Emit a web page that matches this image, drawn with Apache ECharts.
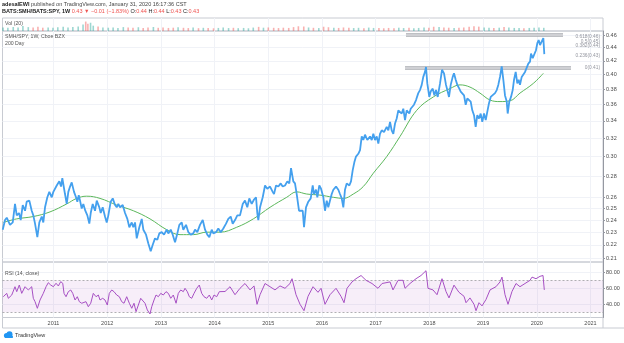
<!DOCTYPE html>
<html>
<head>
<meta charset="utf-8">
<script src="https://cdn.jsdelivr.net/npm/echarts@6/dist/echarts.min.js"></script>
<style>
  html, body { margin: 0; padding: 0; background: #ffffff; }
  #chart { width: 624px; height: 343px; }
</style>
</head>
<body>
<div id="chart"></div>
<script>
// SMH/SPY weekly ratio: [decimal year, close]
const ratio = [
  [2010.054,0.232],[2010.097,0.240],[2010.129,0.242],[2010.190,0.236],[2010.241,0.238],[2010.283,0.254],[2010.315,0.244],[2010.358,0.246],[2010.389,0.240],[2010.427,0.253],
  [2010.470,0.248],[2010.501,0.256],[2010.550,0.257],[2010.581,0.256],[2010.594,0.248],[2010.624,0.244],[2010.656,0.237],[2010.699,0.226],[2010.736,0.238],[2010.781,0.243],
  [2010.810,0.238],[2010.842,0.251],[2010.885,0.260],[2010.922,0.265],[2010.967,0.260],[2010.997,0.265],[2011.060,0.271],[2011.108,0.275],[2011.140,0.270],[2011.164,0.278],
  [2011.214,0.263],[2011.246,0.254],[2011.276,0.265],[2011.308,0.270],[2011.339,0.274],[2011.382,0.265],[2011.419,0.260],[2011.444,0.256],[2011.470,0.262],[2011.494,0.257],
  [2011.525,0.250],[2011.555,0.254],[2011.592,0.248],[2011.630,0.244],[2011.667,0.237],[2011.693,0.246],[2011.730,0.254],[2011.773,0.248],[2011.805,0.257],[2011.853,0.251],
  [2011.879,0.246],[2011.916,0.251],[2011.959,0.243],[2011.991,0.238],[2012.021,0.244],[2012.065,0.256],[2012.103,0.259],[2012.146,0.253],[2012.177,0.251],[2012.207,0.254],
  [2012.239,0.251],[2012.289,0.253],[2012.332,0.246],[2012.375,0.241],[2012.412,0.234],[2012.457,0.238],[2012.486,0.234],[2012.518,0.238],[2012.550,0.225],[2012.598,0.234],
  [2012.643,0.241],[2012.673,0.232],[2012.723,0.228],[2012.766,0.221],[2012.810,0.215],[2012.848,0.220],[2012.890,0.225],[2012.933,0.224],[2012.970,0.229],[2013.015,0.230],
  [2013.058,0.228],[2013.108,0.232],[2013.138,0.229],[2013.183,0.232],[2013.220,0.228],[2013.263,0.222],[2013.306,0.229],[2013.343,0.236],[2013.388,0.238],[2013.417,0.232],
  [2013.468,0.236],[2013.511,0.230],[2013.555,0.228],[2013.604,0.229],[2013.635,0.232],[2013.678,0.230],[2013.728,0.236],[2013.779,0.240],[2013.822,0.232],[2013.864,0.228],
  [2013.902,0.226],[2013.946,0.232],[2013.976,0.229],[2014.026,0.230],[2014.069,0.233],[2014.114,0.230],[2014.162,0.233],[2014.213,0.237],[2014.255,0.241],[2014.300,0.243],
  [2014.337,0.237],[2014.380,0.240],[2014.423,0.244],[2014.473,0.244],[2014.524,0.254],[2014.566,0.257],[2014.609,0.251],[2014.646,0.259],[2014.691,0.254],[2014.734,0.258],
  [2014.771,0.260],[2014.795,0.246],[2014.814,0.240],[2014.846,0.251],[2014.896,0.260],[2014.939,0.271],[2014.981,0.268],[2015.032,0.270],[2015.082,0.265],[2015.106,0.263],
  [2015.144,0.271],[2015.187,0.270],[2015.231,0.273],[2015.268,0.270],[2015.311,0.271],[2015.354,0.275],[2015.391,0.273],[2015.423,0.288],[2015.466,0.275],[2015.497,0.273],
  [2015.529,0.263],[2015.572,0.248],[2015.604,0.247],[2015.641,0.248],[2015.665,0.234],[2015.702,0.251],[2015.745,0.256],[2015.790,0.259],[2015.827,0.271],[2015.851,0.263],
  [2015.889,0.267],[2015.913,0.260],[2015.950,0.271],[2015.982,0.268],[2016.025,0.260],[2016.056,0.248],[2016.088,0.257],[2016.117,0.251],[2016.149,0.257],[2016.181,0.263],
  [2016.211,0.267],[2016.261,0.270],[2016.304,0.267],[2016.335,0.263],[2016.367,0.259],[2016.397,0.251],[2016.428,0.267],[2016.460,0.273],[2016.509,0.271],[2016.540,0.275],
  [2016.572,0.286],[2016.602,0.294],[2016.633,0.300],[2016.676,0.303],[2016.708,0.307],[2016.740,0.322],[2016.769,0.318],[2016.801,0.324],[2016.844,0.318],[2016.894,0.322],
  [2016.926,0.318],[2016.956,0.325],[2016.987,0.318],[2017.019,0.322],[2017.049,0.314],[2017.080,0.325],[2017.112,0.329],[2017.155,0.327],[2017.205,0.333],[2017.235,0.329],
  [2017.267,0.339],[2017.298,0.329],[2017.328,0.325],[2017.360,0.337],[2017.391,0.343],[2017.421,0.353],[2017.453,0.355],[2017.484,0.349],[2017.514,0.355],[2017.546,0.341],
  [2017.577,0.353],[2017.626,0.349],[2017.652,0.355],[2017.689,0.353],[2017.713,0.360],[2017.751,0.366],[2017.793,0.375],[2017.825,0.379],[2017.857,0.386],[2017.886,0.397],
  [2017.918,0.404],[2017.937,0.411],[2017.961,0.388],[2017.998,0.370],[2018.024,0.377],[2018.062,0.381],[2018.092,0.372],[2018.123,0.379],[2018.155,0.370],[2018.198,0.388],
  [2018.235,0.407],[2018.272,0.402],[2018.309,0.386],[2018.334,0.379],[2018.365,0.370],[2018.397,0.386],[2018.434,0.397],[2018.458,0.402],[2018.490,0.393],[2018.520,0.386],
  [2018.557,0.381],[2018.583,0.377],[2018.620,0.379],[2018.645,0.372],[2018.676,0.360],[2018.706,0.368],[2018.738,0.366],[2018.769,0.364],[2018.799,0.353],[2018.831,0.347],
  [2018.862,0.333],[2018.892,0.347],[2018.924,0.343],[2018.955,0.349],[2018.985,0.339],[2019.017,0.349],[2019.049,0.341],[2019.078,0.351],[2019.110,0.362],[2019.142,0.370],
  [2019.179,0.368],[2019.222,0.375],[2019.254,0.379],[2019.283,0.386],[2019.315,0.397],[2019.347,0.412],[2019.377,0.393],[2019.408,0.372],[2019.440,0.364],[2019.458,0.349],
  [2019.488,0.364],[2019.520,0.370],[2019.551,0.379],[2019.576,0.393],[2019.607,0.404],[2019.637,0.388],[2019.663,0.393],[2019.687,0.386],[2019.719,0.397],[2019.749,0.395],
  [2019.781,0.404],[2019.812,0.402],[2019.842,0.416],[2019.874,0.419],[2019.892,0.431],[2019.924,0.424],[2019.954,0.426],[2019.985,0.436],[2020.010,0.447],[2020.035,0.452],
  [2020.060,0.444],[2020.092,0.444],[2020.122,0.455],[2020.140,0.430]
];

// 200 day moving average of the ratio
const ma200 = [
  [2010.065,0.238],[2010.315,0.241],[2010.624,0.243],[2010.935,0.247],[2011.246,0.254],[2011.432,0.259],[2011.618,0.261],[2011.866,0.259],
  [2012.177,0.253],[2012.486,0.248],[2012.797,0.241],[2013.108,0.232],[2013.356,0.228],[2013.604,0.228],[2013.853,0.230],[2014.101,0.230],
  [2014.412,0.234],[2014.721,0.241],[2015.032,0.251],[2015.343,0.260],[2015.529,0.265],[2015.715,0.263],[2015.963,0.262],[2016.211,0.260],
  [2016.397,0.259],[2016.583,0.263],[2016.769,0.270],[2016.956,0.283],[2017.205,0.300],[2017.453,0.322],[2017.764,0.353],[2018.073,0.370],
  [2018.384,0.381],[2018.570,0.386],[2018.756,0.383],[2018.942,0.375],[2019.129,0.366],[2019.315,0.364],[2019.501,0.365],[2019.687,0.375],
  [2019.935,0.388],[2020.122,0.402]
];

// RSI (14, close)
const rsi = [
  [2010.065,49.5],[2010.129,53.7],[2010.159,47.5],[2010.222,51.6],[2010.283,62],[2010.315,55.8],[2010.363,64.1],[2010.408,53.7],[2010.470,62],[2010.531,57.9],
  [2010.594,62],[2010.624,47.5],[2010.656,43.3],[2010.699,35],[2010.749,45.4],[2010.810,53.7],[2010.861,62],[2010.903,67],[2010.948,64.1],[2010.997,62],
  [2011.047,66.3],[2011.090,62.9],[2011.134,68.3],[2011.172,66.3],[2011.196,53.7],[2011.233,49.5],[2011.276,55.8],[2011.321,57.9],[2011.358,53.7],[2011.401,45.4],
  [2011.443,49.5],[2011.481,43.3],[2011.525,41.3],[2011.555,39.1],[2011.605,43.3],[2011.648,37],[2011.693,41.3],[2011.741,53.7],[2011.792,49.5],[2011.835,51.6],
  [2011.866,45.4],[2011.916,47.5],[2011.959,45.4],[2012.002,39.1],[2012.039,53.7],[2012.084,57.9],[2012.127,55.8],[2012.177,51.6],[2012.226,49.5],[2012.270,43.3],
  [2012.313,41.3],[2012.363,49.5],[2012.412,41.3],[2012.457,35],[2012.499,41.3],[2012.537,30.8],[2012.580,39.1],[2012.624,47.5],[2012.661,49.5],[2012.704,41.3],
  [2012.747,32.9],[2012.797,27.9],[2012.829,37],[2012.872,45.4],[2012.909,51.6],[2012.952,49.5],[2012.997,53.7],[2013.045,51.6],[2013.095,55.8],[2013.138,53.7],
  [2013.183,47.5],[2013.231,51.6],[2013.282,41.3],[2013.324,53.7],[2013.369,57.9],[2013.417,55.8],[2013.449,60],[2013.492,55.8],[2013.529,49.5],[2013.574,47.5],
  [2013.617,53.7],[2013.667,60],[2013.715,64.1],[2013.760,53.7],[2013.803,49.5],[2013.853,47.5],[2013.902,51.6],[2013.946,45.4],[2013.989,51.6],[2014.039,49.5],
  [2014.088,55.8],[2014.194,56],[2014.287,62],[2014.380,52],[2014.473,60],[2014.566,66],[2014.660,58],[2014.734,63],[2014.790,40],[2014.846,52],
  [2014.939,66],[2015.032,62],[2015.125,58],[2015.218,63],[2015.311,60],[2015.404,66],[2015.442,72],[2015.516,52],[2015.591,40],[2015.665,32],
  [2015.740,50],[2015.833,62],[2015.926,55],[2015.982,60],[2016.056,40],[2016.149,52],[2016.261,60],[2016.354,50],[2016.410,42],[2016.466,60],
  [2016.559,68],[2016.633,72],[2016.727,76],[2016.820,70],[2016.931,66],[2017.043,60],[2017.118,66],[2017.267,68],[2017.322,58],[2017.416,70],
  [2017.509,70],[2017.546,60],[2017.639,66],[2017.751,72],[2017.844,76],[2017.937,82],[2017.974,60],[2018.067,58],[2018.142,52],[2018.235,72],
  [2018.309,56],[2018.365,48],[2018.458,64],[2018.551,55],[2018.645,50],[2018.682,42],[2018.756,48],[2018.831,40],[2018.868,32],[2018.924,42],
  [2018.980,38],[2019.054,46],[2019.129,58],[2019.240,62],[2019.315,68],[2019.352,74],[2019.408,52],[2019.464,40],[2019.538,56],[2019.613,66],
  [2019.687,62],[2019.781,66],[2019.874,70],[2019.911,74],[2019.985,72],[2020.060,75],[2020.116,76],[2020.140,58]
];

// Volume, relative to the volume pane height
const volume = [
  [2010.06,.30],[2010.15,.28],[2010.25,.34],[2010.34,.30],[2010.43,.42],[2010.53,.33],[2010.62,.30],[2010.71,.36],[2010.80,.28],[2010.90,.30],
  [2010.99,.27],[2011.08,.32],[2011.18,.35],[2011.27,.30],[2011.36,.33],[2011.46,.38],[2011.55,.55],[2011.60,.80],[2011.64,.62],[2011.69,.70],
  [2011.74,.45],[2011.83,.38],[2011.92,.30],[2012.02,.28],[2012.11,.30],[2012.20,.25],[2012.30,.33],[2012.39,.30],[2012.48,.28],[2012.58,.32],
  [2012.67,.26],[2012.76,.30],[2012.86,.34],[2012.95,.27],[2013.04,.30],[2013.14,.26],[2013.23,.28],[2013.32,.31],[2013.42,.27],[2013.51,.25],
  [2013.60,.29],[2013.70,.24],[2013.79,.27],[2013.88,.26],[2013.98,.23],[2014.07,.26],[2014.16,.30],[2014.26,.25],[2014.35,.27],[2014.44,.24],
  [2014.54,.26],[2014.63,.23],[2014.72,.29],[2014.82,.35],[2014.91,.28],[2015.00,.30],[2015.10,.27],[2015.19,.25],[2015.28,.28],[2015.38,.26],
  [2015.47,.33],[2015.56,.40],[2015.66,.38],[2015.75,.30],[2015.84,.27],[2015.94,.25],[2016.03,.36],[2016.12,.32],[2016.22,.27],[2016.31,.26],
  [2016.40,.30],[2016.50,.28],[2016.59,.25],[2016.68,.27],[2016.78,.24],[2016.87,.29],[2016.96,.26],[2017.06,.25],[2017.15,.23],[2017.24,.26],
  [2017.34,.24],[2017.43,.28],[2017.52,.25],[2017.62,.27],[2017.71,.24],[2017.80,.26],[2017.90,.30],[2017.99,.28],[2018.08,.36],[2018.18,.33],
  [2018.27,.30],[2018.36,.28],[2018.46,.26],[2018.55,.27],[2018.64,.30],[2018.74,.35],[2018.83,.40],[2018.92,.37],[2019.02,.30],[2019.11,.27],
  [2019.20,.25],[2019.30,.28],[2019.39,.34],[2019.48,.30],[2019.58,.26],[2019.67,.25],[2019.76,.24],[2019.86,.26],[2019.95,.28],[2020.04,.30],
  [2020.13,.27]
];

const priceTicks = [0.21,0.22,0.23,0.24,0.25,0.26,0.28,0.30,0.32,0.34,0.36,0.38,0.40,0.42,0.44,0.46];
const yearTicks = [2011,2012,2013,2014,2015,2016,2017,2018,2019,2020,2021];
const rsiTicks = [40,60,80];

// Fibonacci retracement labels (level, price)
const fibLevels = ['0.618','0.5','0.382','0.236','0'];
const fibPrices = [0.4578,0.4497,0.4425,0.4276,0.4095];
const fibLabelYear = 2021.177;

// Resistance zone edges drawn on the chart
const zoneTop = [[2017.564,0.460],[2020.488,0.460]];
const zoneBottom = [[2017.546,0.4095],[2020.637,0.4095]];

const rsiBand = [30, 70];

// ---- chart build ----
const ln = Math.log;
const toLog = arr => arr.map(([t, p]) => [t, ln(p)]);
const last = ratio[ratio.length - 1][1];

// ratio close nearest to a date, used to tint volume bars up / down
function closeAt(t) {
  let best = 0;
  for (let i = 0; i < ratio.length; i++) if (Math.abs(ratio[i][0] - t) < Math.abs(ratio[best][0] - t)) best = i;
  return best;
}
const volBars = volume.map(([t, v]) => {
  const i = closeAt(t);
  const up = i === 0 || ratio[i][1] >= ratio[i - 1][1];
  return { value: [t, v], itemStyle: { color: up ? 'rgba(38,166,154,0.45)' : 'rgba(239,83,80,0.45)' } };
});

const FONT = 'Liberation Sans, Arial, sans-serif';
const axisText = { fontSize: 5.5, color: '#4a4a4a', fontFamily: FONT };
const gridLine = { lineStyle: { color: '#f0f2f7', width: 1 } };
const xMin = 2010.05, xMax = 2021.233;
const frame = '#c8cbd2';

function xAxisFor(gridIndex, showLabels) {
  return {
    type: 'value', gridIndex, min: xMin, max: xMax,
    axisLine: { show: false },
    axisTick: { show: false, customValues: yearTicks },
    axisLabel: showLabels ? Object.assign({ customValues: yearTicks, margin: 2.5, formatter: v => String(Math.round(v)) }, axisText) : { show: false, customValues: yearTicks },
    splitLine: Object.assign({ show: true }, gridLine)
  };
}

const chart = echarts.init(document.getElementById('chart'), null, { renderer: 'canvas' });

chart.setOption({
  animation: false,
  backgroundColor: '#ffffff',
  textStyle: { fontFamily: FONT },
  grid: [
    { left: 2.5, right: 21, top: 18, height: 13, show: true, borderColor: frame, borderWidth: 1, outerBoundsMode: 'none' },
    { left: 2.5, right: 21, top: 31, height: 231, show: true, borderColor: frame, borderWidth: 1, outerBoundsMode: 'none' },
    { left: 2.5, right: 21, top: 262, height: 55.5, show: true, borderColor: frame, borderWidth: 1, outerBoundsMode: 'none' }
  ],
  xAxis: [xAxisFor(0, false), xAxisFor(1, false), xAxisFor(2, true)],
  yAxis: [
    { type: 'value', gridIndex: 0, min: 0, max: 1.1, show: false },
    {
      type: 'value', gridIndex: 1, position: 'right',
      min: ln(0.2071), max: ln(0.4665),
      axisLine: { show: true, lineStyle: { color: '#9598a1', width: 1 } },
      axisTick: { show: true, length: 2, customValues: priceTicks.map(ln), lineStyle: { color: '#9598a1' } },
      axisLabel: Object.assign({ customValues: priceTicks.map(ln), margin: 3, formatter: v => Math.exp(v).toFixed(2) }, axisText),
      splitLine: Object.assign({ show: true }, gridLine)
    },
    {
      type: 'value', gridIndex: 2, position: 'right', min: 23.5, max: 92.9,
      axisLine: { show: true, lineStyle: { color: '#9598a1', width: 1 } },
      axisTick: { show: true, length: 2, customValues: rsiTicks, lineStyle: { color: '#9598a1' } },
      axisLabel: Object.assign({ customValues: rsiTicks, margin: 3, formatter: v => v.toFixed(2) }, axisText),
      splitLine: Object.assign({ show: true }, gridLine)
    }
  ],
  series: [
    {
      name: 'Vol', type: 'bar', xAxisIndex: 0, yAxisIndex: 0,
      data: volBars, barWidth: 1.6, silent: true
    },
    {
      name: 'SMH/SPY', type: 'line', xAxisIndex: 1, yAxisIndex: 1,
      data: toLog(ratio), showSymbol: false, z: 5,
      lineStyle: { color: '#44a0ee', width: 1.8 },
      markLine: {
        silent: true, symbol: ['none', 'none'],
        lineStyle: { opacity: 0 },
        label: {
          position: 'end', distance: 0.5, formatter: () => last.toFixed(2),
          backgroundColor: '#2196f3', color: '#ffffff', fontSize: 5.5, padding: [2, 3, 1.5, 3], fontFamily: FONT
        },
        data: [{ yAxis: ln(last) }]
      }
    },
    {
      name: '200 Day', type: 'line', xAxisIndex: 1, yAxisIndex: 1,
      data: toLog(ma200), showSymbol: false, smooth: 0.4, z: 4,
      lineStyle: { color: '#5cb85c', width: 1 }
    },
    {
      name: 'zoneTopEdge', type: 'line', xAxisIndex: 1, yAxisIndex: 1,
      data: toLog(zoneTop), showSymbol: false, z: 3,
      lineStyle: { color: '#a9abb0', width: 3.5 }
    },
    {
      name: 'zoneTopFill', type: 'line', xAxisIndex: 1, yAxisIndex: 1,
      data: toLog(zoneTop), showSymbol: false, z: 3,
      lineStyle: { color: '#dcdde0', width: 1.5 }
    },
    {
      name: 'zoneBottomEdge', type: 'line', xAxisIndex: 1, yAxisIndex: 1,
      data: toLog(zoneBottom), showSymbol: false, z: 3,
      lineStyle: { color: '#a9abb0', width: 3.5 }
    },
    {
      name: 'zoneBottomFill', type: 'line', xAxisIndex: 1, yAxisIndex: 1,
      data: toLog(zoneBottom), showSymbol: false, z: 3,
      lineStyle: { color: '#dcdde0', width: 1.5 }
    },
    {
      name: 'fib', type: 'scatter', xAxisIndex: 1, yAxisIndex: 1,
      symbolSize: 0, silent: true, z: 6,
      data: fibLevels.map((lv, i) => [fibLabelYear, ln(fibPrices[i])]),
      label: {
        show: true, position: 'left', distance: 0, fontSize: 4.8, color: '#787b86', fontFamily: FONT,
        formatter: p => fibLevels[p.dataIndex] + '(' + fibPrices[p.dataIndex].toFixed(2) + ')'
      }
    },
    {
      name: 'RSI', type: 'line', xAxisIndex: 2, yAxisIndex: 2,
      data: rsi, showSymbol: false, z: 5,
      lineStyle: { color: '#a750c4', width: 1 },
      markArea: {
        silent: true,
        itemStyle: { color: 'rgba(156, 39, 176, 0.08)' },
        data: [[{ yAxis: rsiBand[0] }, { yAxis: rsiBand[1] }]]
      },
      markLine: {
        silent: true, symbol: ['none', 'none'], label: { show: false },
        lineStyle: { color: '#9c9ca0', type: [2, 2], width: 0.8 },
        data: [{ yAxis: rsiBand[0] }, { yAxis: rsiBand[1] }]
      }
    }
  ],
  graphic: [
    {
      type: 'text', left: 2, top: 1.5, z: 100,
      style: {
        text: '{b|adesalEWI} published on TradingView.com, January 31, 2020 16:17:36 CST',
        fontSize: 5.5, fill: '#444', fontFamily: FONT,
        rich: { b: { fontWeight: 'bold', fontSize: 5.5, fill: '#222', fontFamily: FONT } }
      }
    },
    {
      type: 'text', left: 2, top: 8.5, z: 100,
      style: {
        text: '{b|BATS:SMH/BATS:SPY, 1W} {r|0.43 \u25BC \u22120.01 (\u22121.83%)} {k|O:}{r|0.44} {k|H:}{r|0.44} {k|L:}{r|0.43} {k|C:}{r|0.43}',
        fontSize: 5.5, fill: '#222', fontFamily: FONT,
        rich: {
          b: { fontWeight: 'bold', fontSize: 5.5, fill: '#222', fontFamily: FONT },
          r: { fontSize: 5.5, fill: '#ef5350', fontFamily: FONT },
          k: { fontSize: 5.5, fill: '#222', fontFamily: FONT }
        }
      }
    },
    { type: 'text', left: 5, top: 21, z: 100, style: { text: 'Vol (20)', fontSize: 5.2, fill: '#555', fontFamily: FONT } },
    { type: 'text', left: 5, top: 34.5, z: 100, style: { text: 'SMH/SPY, 1W, Cboe BZX', fontSize: 5.2, fill: '#555', fontFamily: FONT } },
    { type: 'text', left: 5, top: 41.5, z: 100, style: { text: '200 Day', fontSize: 5.2, fill: '#555', fontFamily: FONT } },
    { type: 'text', left: 5, top: 271.5, z: 100, style: { text: 'RSI (14, close)', fontSize: 5.2, fill: '#555', fontFamily: FONT } },
    { type: 'line', shape: { x1: 2.5, y1: 317.5, x2: 2.5, y2: 328 }, style: { stroke: frame, lineWidth: 1 } },
    { type: 'line', shape: { x1: 2.5, y1: 328, x2: 624, y2: 328 }, style: { stroke: frame, lineWidth: 1 } },
    { type: 'line', shape: { x1: 603, y1: 317.5, x2: 603, y2: 328 }, style: { stroke: frame, lineWidth: 1 } },
    // TradingView logo
    { type: 'circle', shape: { cx: 6.5, cy: 335.5, r: 2.6 }, style: { fill: '#2196f3' } },
    { type: 'circle', shape: { cx: 9.5, cy: 334.3, r: 3 }, style: { fill: '#2196f3' } },
    { type: 'rect', shape: { x: 5, y: 335.5, width: 8, height: 2.6, r: 1.2 }, style: { fill: '#2196f3' } },
    { type: 'text', left: 15, top: 332.5, style: { text: 'TradingView', fontSize: 5.5, fill: '#333', fontFamily: FONT } }
  ]
});
</script>
</body>
</html>
